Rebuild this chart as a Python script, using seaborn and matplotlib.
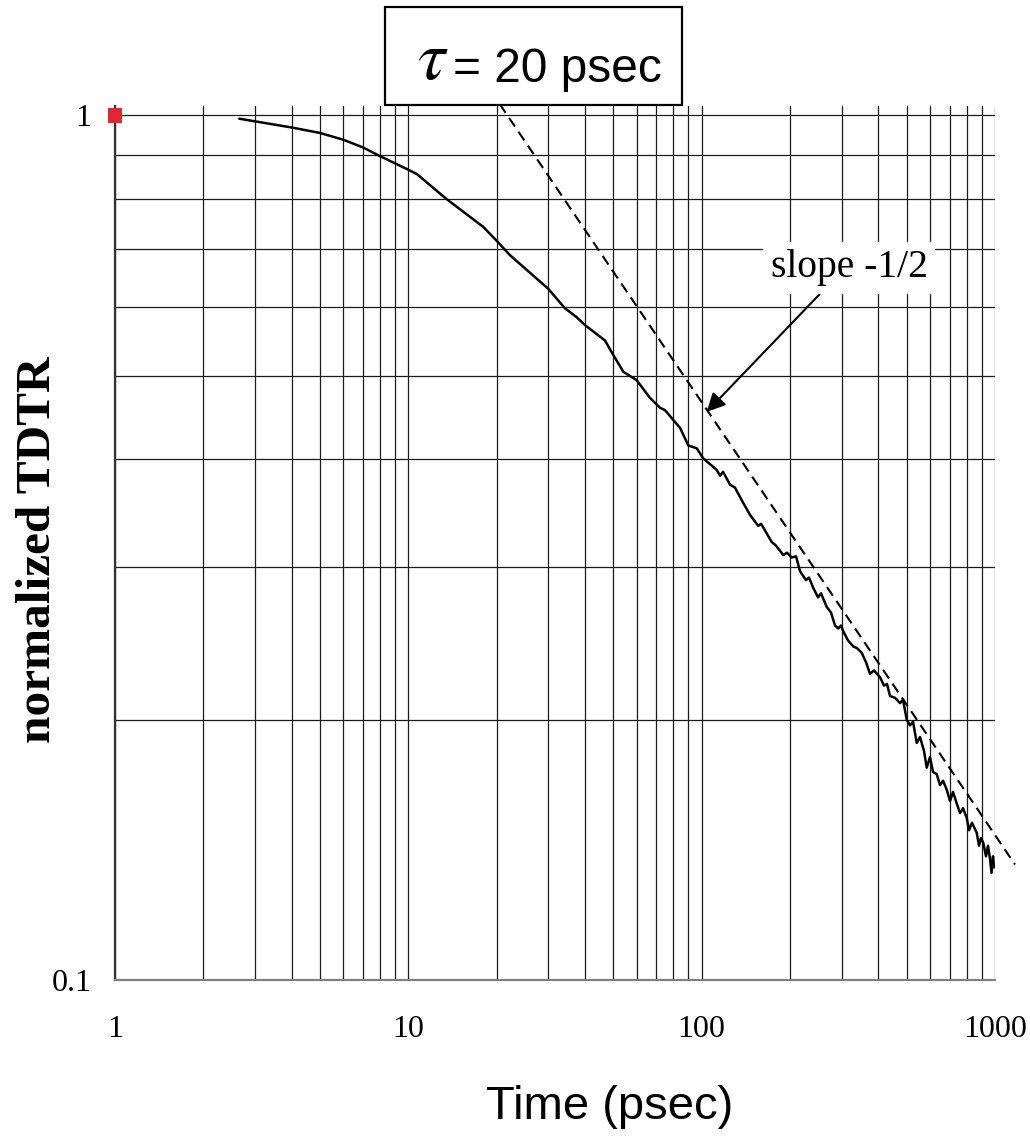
import matplotlib
matplotlib.use("Agg")
import matplotlib.pyplot as plt
from matplotlib.patches import Rectangle
from matplotlib.ticker import FixedLocator, FixedFormatter, LogLocator, NullFormatter
import seaborn as sns
import pandas as pd

# Normalized TDTR decay versus delay time
time_ps = [2.65, 3.0, 4.0, 5.0, 6.0, 7.0, 8.0, 10.0, 10.7, 13.5,
           18.0, 20.0, 22.2, 30.0, 34.2, 37.5, 40.0, 46.8, 50.0, 54.1,
           60.0, 66.7, 72.1, 75.0, 84.4, 90.1, 96.2, 101.3, 112.5, 115.5,
           118.3, 124.9, 129.9, 138.7, 146.2, 156.0, 159.4, 173.3, 179.2, 189.8,
           195.4, 202.7, 209.7, 216.4, 226.8, 232.2, 240.2, 249.3, 255.2, 266.9,
           276.0, 284.9, 292.3, 298.5, 304.0, 315.4, 328.9, 338.5, 351.3, 363.4,
           374.9, 386.8, 405.5, 418.4, 428.4, 438.6, 456.2, 474.5, 485.8, 500.0,
           513.2, 525.4, 541.0, 555.1, 572.8, 585.1, 600.4, 614.8, 633.0, 649.5,
           665.0, 684.6, 702.6, 719.3, 740.5, 760.0, 778.1, 801.0, 815.6, 835.0,
           866.3, 882.2, 896.1, 912.4, 931.9, 946.6, 961.8, 973.1, 984.6, 992.3]
signal = [0.991, 0.984, 0.968, 0.954, 0.937, 0.918, 0.897, 0.865, 0.855, 0.800,
          0.743, 0.716, 0.689, 0.630, 0.598, 0.584, 0.572, 0.549, 0.528, 0.505,
          0.494, 0.471, 0.459, 0.456, 0.435, 0.415, 0.412, 0.401, 0.389, 0.383,
          0.387, 0.374, 0.371, 0.356, 0.345, 0.335, 0.337, 0.321, 0.318, 0.310,
          0.312, 0.308, 0.309, 0.297, 0.290, 0.292, 0.284, 0.277, 0.280, 0.270,
          0.266, 0.257, 0.255, 0.257, 0.253, 0.247, 0.243, 0.242, 0.239, 0.233,
          0.226, 0.228, 0.224, 0.219, 0.220, 0.213, 0.212, 0.209, 0.211, 0.200,
          0.197, 0.199, 0.188, 0.191, 0.184, 0.176, 0.181, 0.174, 0.173, 0.168,
          0.170, 0.166, 0.161, 0.165, 0.160, 0.156, 0.158, 0.154, 0.149, 0.152,
          0.148, 0.143, 0.146, 0.144, 0.139, 0.143, 0.138, 0.133, 0.139, 0.135]

# Slope -1/2 guide line (end points)
guide_time = [20.5, 1170.0]
guide_signal = [1.03, 0.136]

# Normalization point
norm_time = [1.0]
norm_signal = [1.0]

x_ticks = [1, 10, 100, 1000]
x_tick_labels = ["1", "10", "100", "1000"]
y_ticks = [0.1, 1]
y_tick_labels = ["0.1", "1"]

sns.set_theme(style="white")
plt.rcParams["font.family"] = ["Liberation Serif", "DejaVu Serif"]
plt.rcParams["mathtext.fontset"] = "stix"
plt.rcParams["text.color"] = "black"
plt.rcParams["xtick.color"] = "black"
plt.rcParams["ytick.color"] = "black"
plt.rcParams["axes.labelcolor"] = "black"

W, H = 1030, 1136
fig = plt.figure(figsize=(W / 100, H / 100), dpi=100)
ax = fig.add_axes([115 / W, 1 - 980 / H, 880 / W, (980 - 106) / H])
ax.set_xscale("log")
ax.set_yscale("log")
ax.set_xlim(1, 1000)
ax.set_ylim(0.1, 1.025)

df = pd.DataFrame({"t": time_ps, "s": signal})
sns.lineplot(data=df, x="t", y="s", ax=ax, color="black", lw=1.8,
             estimator=None, sort=False, zorder=4)
sns.lineplot(x=guide_time, y=guide_signal, ax=ax, color="black", lw=1.5,
             linestyle=(0, (5, 3)), estimator=None, zorder=4)
ax.lines[-1].set_clip_on(False)
sns.scatterplot(x=norm_time, y=norm_signal, ax=ax, marker="s", s=110,
                color="#e0262e", edgecolor="none", clip_on=False, zorder=6)

# Grid on every decade and sub-decade
ax.xaxis.set_major_locator(FixedLocator(x_ticks))
ax.xaxis.set_major_formatter(FixedFormatter(x_tick_labels))
ax.yaxis.set_major_locator(FixedLocator(y_ticks))
ax.yaxis.set_major_formatter(FixedFormatter(y_tick_labels))
ax.xaxis.set_minor_locator(LogLocator(base=10, subs=range(2, 10)))
ax.yaxis.set_minor_locator(LogLocator(base=10, subs=range(2, 10)))
ax.xaxis.set_minor_formatter(NullFormatter())
ax.yaxis.set_minor_formatter(NullFormatter())
ax.set_axisbelow(True)
ax.grid(which="both", color="#1a1a1a", lw=0.9)
ax.tick_params(which="both", length=0, labelsize=23, colors="black")
ax.tick_params(axis="x", pad=25)
ax.tick_params(axis="y", pad=17)

for side in ("top", "right"):
    ax.spines[side].set_visible(False)
ax.spines["left"].set_color("#333333")
ax.spines["left"].set_linewidth(1.6)
ax.spines["bottom"].set_color("#808080")
ax.spines["bottom"].set_linewidth(1.6)
ax.set_xlabel("")
ax.set_ylabel("")

# Slope annotation
ax.annotate("slope -1/2", xy=(104.0, 0.4539), xycoords="data",
            xytext=(849, H - 268), textcoords="figure pixels",
            ha="center", va="center", fontsize=28.5, zorder=7, color="black",
            bbox=dict(boxstyle="square,pad=0.2", fc="white", ec="none"),
            arrowprops=dict(arrowstyle="-|>", color="black", lw=1.5,
                            mutation_scale=28, shrinkA=0, shrinkB=0,
                            relpos=(0.36, 0.0)))

# Axis titles
fig.text(38 / W, 1 - 550 / H, "normalized TDTR", rotation=90, ha="center",
         va="center", fontsize=35.5, fontweight="bold", color="black")
fig.text(610 / W, 1 - 1119 / H, "Time (psec)", ha="center", va="baseline",
         fontsize=34, family=["Liberation Sans", "DejaVu Sans"], color="black")

# Time-constant box
fig.patches.append(Rectangle((385 / W, 1 - 105 / H), 297 / W, 98 / H,
                             transform=fig.transFigure, fc="white",
                             ec="black", lw=1.6, zorder=5))
fig.text(449 / W, 1 - 79 / H, r"$\tau$", ha="right", va="baseline",
         fontsize=50, zorder=6, color="black")
fig.text(453 / W, 1 - 82 / H, "= 20 psec", ha="left", va="baseline",
         fontsize=34.5, family=["Liberation Sans", "DejaVu Sans"], zorder=6,
         color="black")

fig.savefig("out.png", dpi=100)
